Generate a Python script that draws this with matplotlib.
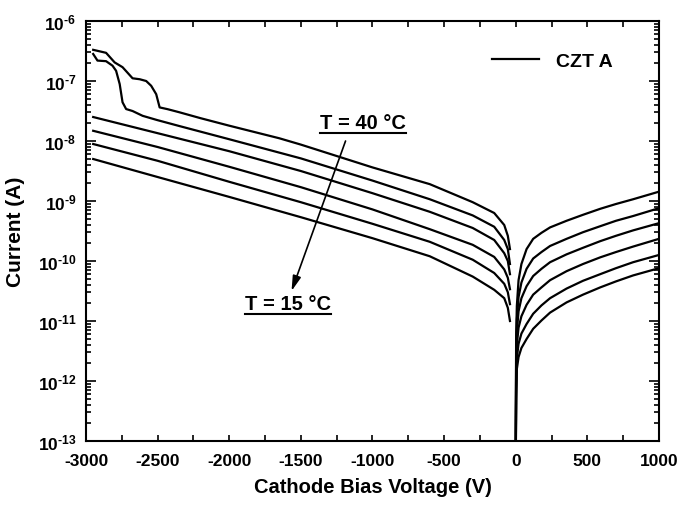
import math
import matplotlib
matplotlib.use("Agg")
import matplotlib.pyplot as plt
from matplotlib.lines import Line2D
from matplotlib.ticker import MultipleLocator, LogLocator, FuncFormatter, NullFormatter

plt.rcParams['font.family'] = ['Liberation Sans', 'DejaVu Sans']
plt.rcParams['font.weight'] = 'bold'
plt.rcParams['axes.unicode_minus'] = False
plt.rcParams['mathtext.fontset'] = 'custom'
plt.rcParams['mathtext.rm'] = 'Liberation Sans:bold'
plt.rcParams['mathtext.bf'] = 'Liberation Sans:bold'
plt.rcParams['mathtext.it'] = 'Liberation Sans:bold'

# ---- reverse-bias branch (cathode negative), current in A ----
volt_neg_40 = [-2950, -2860, -2800, -2745, -2675, -2625, -2580, -2545, -2510, -2486, -2430,
               -2350, -2200, -2000, -1650, -1500, -1000, -600, -300, -150, -80, -55, -40]
curr_neg_40 = [3.31e-7, 2.95e-7, 2.04e-7, 1.70e-7, 1.11e-7, 1.07e-7, 1.00e-7, 8.32e-8, 6.03e-8,
               3.63e-8, 3.39e-8, 3.02e-8, 2.40e-8, 1.80e-8, 1.11e-8, 8.71e-9, 3.63e-9, 1.91e-9,
               9.55e-10, 6.31e-10, 3.98e-10, 2.63e-10, 1.58e-10]

volt_neg_35 = [-2950, -2920, -2860, -2815, -2790, -2765, -2745, -2720, -2675, -2605, -2505,
               -2350, -2000, -1500, -1000, -600, -300, -150, -80, -55, -40]
curr_neg_35 = [2.82e-7, 2.19e-7, 2.14e-7, 1.80e-7, 1.48e-7, 8.91e-8, 4.42e-8, 3.41e-8, 3.16e-8,
               2.63e-8, 2.24e-8, 1.78e-8, 1.07e-8, 5.13e-9, 2.19e-9, 1.07e-9, 5.75e-10,
               3.72e-10, 2.24e-10, 1.58e-10, 8.91e-11]

volt_neg = [-2950, -2500, -2000, -1500, -1000, -600, -300, -150, -80, -55, -40]
curr_neg_30 = [2.51e-8, 1.35e-8, 6.76e-9, 3.16e-9, 1.35e-9, 6.61e-10, 3.55e-10, 2.24e-10,
               1.35e-10, 1.00e-10, 6.03e-11]
curr_neg_25 = [1.48e-8, 7.94e-9, 3.72e-9, 1.70e-9, 7.24e-10, 3.39e-10, 1.86e-10, 1.17e-10,
               7.24e-11, 5.25e-11, 3.39e-11]
curr_neg_20 = [8.91e-9, 4.68e-9, 2.09e-9, 9.55e-10, 4.17e-10, 2.09e-10, 1.05e-10, 6.31e-11,
               4.17e-11, 3.02e-11, 1.91e-11]
curr_neg_15 = [5.01e-9, 2.51e-9, 1.17e-9, 5.37e-10, 2.40e-10, 1.20e-10, 5.50e-11, 3.31e-11,
               2.40e-11, 1.66e-11, 1.00e-11]

# ---- forward branch (cathode positive), current in A ----
volt_pos = [0.5, 3, 8, 20, 40, 76, 122, 180, 240, 355, 470, 590, 700, 820, 1000]
curr_pos_40 = [3.16e-14, 5.01e-12, 1.78e-11, 4.79e-11, 8.91e-11, 1.58e-10, 2.34e-10, 2.95e-10,
               3.63e-10, 4.68e-10, 5.89e-10, 7.41e-10, 8.91e-10, 1.07e-9, 1.43e-9]
curr_pos_35 = [3.16e-14, 3.02e-12, 1.05e-11, 2.51e-11, 4.37e-11, 7.41e-11, 1.10e-10, 1.41e-10,
               1.78e-10, 2.34e-10, 3.02e-10, 3.80e-10, 4.68e-10, 5.62e-10, 7.59e-10]
curr_pos_30 = [3.16e-14, 1.95e-12, 6.61e-12, 1.45e-11, 2.40e-11, 3.80e-11, 5.62e-11, 7.41e-11,
               9.55e-11, 1.29e-10, 1.66e-10, 2.14e-10, 2.63e-10, 3.24e-10, 4.27e-10]
curr_pos_25 = [3.16e-14, 1.20e-12, 3.98e-12, 7.76e-12, 1.20e-11, 1.86e-11, 2.75e-11, 3.63e-11,
               4.79e-11, 6.76e-11, 8.91e-11, 1.15e-10, 1.41e-10, 1.74e-10, 2.34e-10]
curr_pos_20 = [3.16e-14, 7.41e-13, 2.40e-12, 4.17e-12, 6.17e-12, 8.91e-12, 1.32e-11, 1.82e-11,
               2.40e-11, 3.47e-11, 4.68e-11, 6.03e-11, 7.59e-11, 9.55e-11, 1.26e-10]
curr_pos_15 = [3.16e-14, 5.01e-13, 1.58e-12, 2.51e-12, 3.55e-12, 5.01e-12, 7.41e-12, 1.02e-11,
               1.38e-11, 2.04e-11, 2.75e-11, 3.63e-11, 4.57e-11, 5.75e-11, 7.59e-11]

legend_label = "CZT A"
label_hot = "T = 40 \u00b0C"
label_cold = "T = 15 \u00b0C"

fig = plt.figure(figsize=(6.8, 5.06), dpi=100)
ax = fig.add_axes([0.1265, 0.1265, 0.8425, 0.83])

lw = 1.6
neg_sets = [(volt_neg_40, curr_neg_40), (volt_neg_35, curr_neg_35),
            (volt_neg, curr_neg_30), (volt_neg, curr_neg_25),
            (volt_neg, curr_neg_20), (volt_neg, curr_neg_15)]
pos_sets = [curr_pos_40, curr_pos_35, curr_pos_30, curr_pos_25, curr_pos_20, curr_pos_15]
for v, c in neg_sets:
    ax.plot(v, c, color='black', lw=lw, solid_joinstyle='round')
for c in pos_sets:
    ax.plot(volt_pos, c, color='black', lw=lw, solid_joinstyle='round')

ax.set_yscale('log')
ax.set_xlim(-3000, 1000)
ax.set_ylim(1e-13, 1e-6)


def decade_label(y, pos):
    e = round(math.log10(y))
    return r'$\mathbf{10^{\text{%d}}}$' % e


ax.xaxis.set_major_locator(MultipleLocator(500))
ax.xaxis.set_minor_locator(MultipleLocator(250))
ax.yaxis.set_major_locator(LogLocator(base=10, numticks=20))
ax.yaxis.set_minor_locator(LogLocator(base=10, subs=range(2, 10), numticks=20))
ax.yaxis.set_minor_formatter(NullFormatter())
ax.yaxis.set_major_formatter(FuncFormatter(decade_label))

ax.tick_params(which='both', direction='in', top=True, right=True, width=1.2)
ax.tick_params(axis='x', which='both', length=4, labelsize=12.5, pad=9)
ax.tick_params(axis='y', which='major', length=7, labelsize=12.5, pad=7)
ax.tick_params(axis='y', which='minor', length=3.5)
for lab in ax.get_xticklabels():
    lab.set_fontweight('bold')
for s in ax.spines.values():
    s.set_linewidth(1.5)

ax.set_xlabel("Cathode Bias Voltage (V)", fontsize=14.5, fontweight='bold', labelpad=6)
ax.set_ylabel("Current (A)", fontsize=15, fontweight='bold', labelpad=9)

ax.legend(handles=[Line2D([], [], color='black', lw=lw)], labels=[legend_label],
          loc='center right', bbox_to_anchor=(0.92, 0.905), frameon=False,
          borderpad=0, borderaxespad=0, handlelength=2.4, handletextpad=0.9,
          prop={'weight': 'bold', 'size': 14})

# temperature labels and arrow
t_hot = ax.text(-1066, 2.05e-8, label_hot, fontsize=14.5, fontweight='bold',
                ha='center', va='center')
t_cold = ax.text(-1590, 1.95e-11, label_cold, fontsize=14.5, fontweight='bold',
                 ha='center', va='center')
ax.annotate('', xy=(-1565, 3.16e-11), xytext=(-1188, 1.0e-8),
            arrowprops=dict(arrowstyle='-|>,head_length=0.9,head_width=0.25',
                            color='black', lw=1.2, shrinkA=0, shrinkB=0))

# underline the temperature labels
fig.canvas.draw()
renderer = fig.canvas.get_renderer()
inv = fig.transFigure.inverted()
for t in (t_hot, t_cold):
    bb = t.get_window_extent(renderer)
    (x0, y0), (x1, _) = inv.transform([(bb.x0, bb.y0 - 1), (bb.x1, bb.y0 - 1)])
    fig.add_artist(Line2D([x0, x1], [y0, y0], transform=fig.transFigure,
                          color='black', lw=1.5))

fig.savefig("out.png", dpi=100)
